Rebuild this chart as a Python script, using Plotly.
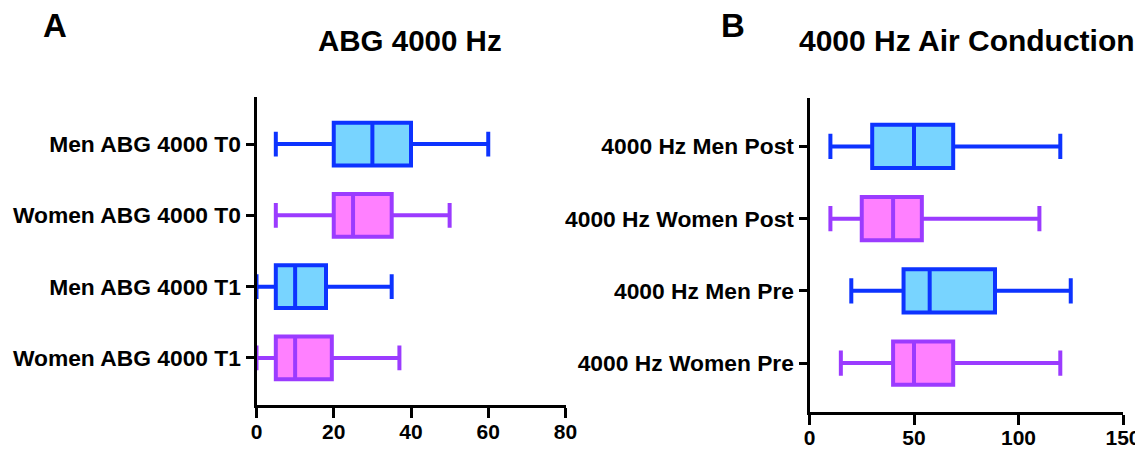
import plotly.graph_objects as go

# Panel A data
a_categories = ["Men ABG 4000 T0", "Women ABG 4000 T0", "Men ABG 4000 T1", "Women ABG 4000 T1"]
a_low = [5, 5, 0, 0]
a_q1 = [20, 20, 5, 5]
a_median = [30, 25, 10, 10]
a_q3 = [40, 35, 18, 19.5]
a_high = [60, 50, 35, 37]
a_ticks = [0, 20, 40, 60, 80]

# Panel B data
b_categories = ["4000 Hz Men Post", "4000 Hz Women Post", "4000 Hz Men Pre", "4000 Hz Women Pre"]
b_low = [10, 10, 20, 15]
b_q1 = [30, 25, 45, 40]
b_median = [50, 40, 57.5, 50]
b_q3 = [68.75, 53.75, 88.75, 68.75]
b_high = [120, 110, 125, 120]
b_ticks = [0, 50, 100, 150]

BLUE_LINE = "#0D33FF"
BLUE_FILL = "#78D4FF"
PURPLE_LINE = "#9B3BFF"
PURPLE_FILL = "#FF80FF"
styles = [(BLUE_LINE, BLUE_FILL), (PURPLE_LINE, PURPLE_FILL)] * 2

FONT = "Liberation Sans"

fig = go.Figure()

def add_boxes(cats, low, q1, med, q3, high, xaxis, yaxis):
    for i, c in enumerate(cats):
        lc, fc = styles[i]
        fig.add_trace(go.Box(
            y=[c], q1=[q1[i]], median=[med[i]], q3=[q3[i]],
            lowerfence=[low[i]], upperfence=[high[i]],
            orientation="h", width=0.6, whiskerwidth=0.58,
            line=dict(color=lc, width=4), fillcolor=fc,
            showlegend=False, boxpoints=False,
            xaxis=xaxis, yaxis=yaxis, hoverinfo="skip",
        ))

add_boxes(a_categories, a_low, a_q1, a_median, a_q3, a_high, "x", "y")
add_boxes(b_categories, b_low, b_q1, b_median, b_q3, b_high, "x2", "y2")

OFF = 8  # page body margin
W, H = 1143 - OFF, 452 - OFF

def xdom(l, r):
    return [(l - OFF) / W, (r - OFF) / W]

def ydom(top, bottom):
    return [(H - (bottom - OFF)) / H, (H - (top - OFF)) / H]

axis_common = dict(showline=True, linecolor="black", linewidth=3,
                   ticks="outside", tickcolor="black", tickwidth=3,
                   showgrid=False, zeroline=False, fixedrange=True,
                   automargin=False)

fig.update_layout(
    width=W, height=H,
    margin=dict(l=0, r=0, t=0, b=0, pad=0),
    plot_bgcolor="white", paper_bgcolor="white",
    xaxis=dict(domain=xdom(256.5, 565.5), range=[0, 80], tickvals=a_ticks,
               anchor="y", ticklen=10, ticklabelstandoff=-4,
               tickfont=dict(family=FONT, size=21, color="black", weight="bold"),
               **axis_common),
    yaxis=dict(domain=ydom(97, 405), range=[3.66, -0.66], type="category",
               categoryorder="array", categoryarray=a_categories,
               anchor="x", ticklen=8,
               tickfont=dict(family=FONT, size=22.8, color="black", weight="bold"),
               **axis_common),
    xaxis2=dict(domain=xdom(809.5, 1123), range=[0, 150], tickvals=b_ticks,
                anchor="y2", ticklen=10, ticklabelstandoff=-5,
                tickfont=dict(family=FONT, size=21, color="black", weight="bold"),
                **axis_common),
    yaxis2=dict(domain=ydom(98, 411.5), range=[3.67, -0.67], type="category",
                categoryorder="array", categoryarray=b_categories,
                anchor="x2", ticklen=8,
                tickfont=dict(family=FONT, size=22.8, color="black", weight="bold"),
                **axis_common),
)

def ann(text, x, y, size):
    fig.add_annotation(text=text, x=(x - OFF) / W, y=(H - (y - OFF)) / H,
                       xref="paper", yref="paper",
                       showarrow=False, xanchor="center", yanchor="middle",
                       font=dict(family=FONT, size=size, color="black", weight="bold"))

ann("ABG 4000 Hz", 410, 40, 29.5)
ann("4000 Hz Air Conduction", 967, 40, 30)
ann("A", 55, 25, 33)
ann("B", 733, 25, 33)

fig.write_html("out.html")
